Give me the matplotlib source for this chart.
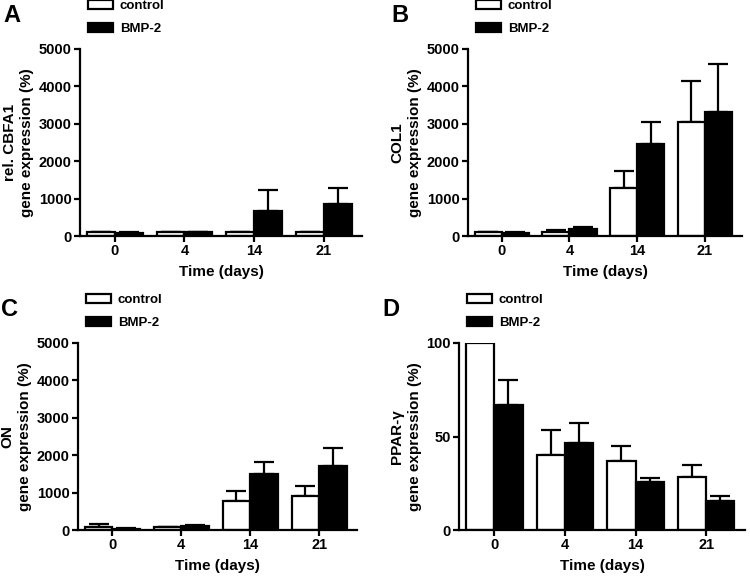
"""Gene expression time course, four panels (control vs BMP-2)."""

import matplotlib
matplotlib.use("Agg")
import matplotlib.pyplot as plt
import numpy as np

plt.rcParams["font.family"] = ["Liberation Sans", "DejaVu Sans"]
plt.rcParams["font.weight"] = "bold"
plt.rcParams["axes.labelweight"] = "bold"

days = ["0", "4", "14", "21"]
series_names = ["control", "BMP-2"]

# panel A - CBFA1
cbfa1_ctrl = [100, 100, 100, 100]
cbfa1_ctrl_err = [10, 10, 15, 15]
cbfa1_bmp = [90, 100, 680, 860]
cbfa1_bmp_err = [15, 15, 540, 420]

# panel B - COL1
col1_ctrl = [100, 100, 1280, 3040]
col1_ctrl_err = [10, 60, 460, 1110]
col1_bmp = [80, 180, 2450, 3310]
col1_bmp_err = [20, 70, 610, 1290]

# panel C - ON
on_ctrl = [90, 70, 780, 920]
on_ctrl_err = [70, 20, 270, 260]
on_bmp = [40, 100, 1500, 1710]
on_bmp_err = [15, 30, 330, 470]

# panel D - PPAR-gamma
ppar_ctrl = [100, 40, 37, 28.6]
ppar_ctrl_err = [0, 13.6, 8, 6.2]
ppar_bmp = [67, 46.4, 25.9, 15.7]
ppar_bmp_err = [13.4, 10.7, 1.8, 2.7]

panels = [
    ("A", "rel. CBFA1", cbfa1_ctrl, cbfa1_ctrl_err, cbfa1_bmp, cbfa1_bmp_err, 5000, 1000),
    ("B", "COL1", col1_ctrl, col1_ctrl_err, col1_bmp, col1_bmp_err, 5000, 1000),
    ("C", "ON", on_ctrl, on_ctrl_err, on_bmp, on_bmp_err, 5000, 1000),
    ("D", "PPAR-γ", ppar_ctrl, ppar_ctrl_err, ppar_bmp, ppar_bmp_err, 100, 50),
]

# axes boxes in pixels: left, right, top(y at ymax), bottom(y at 0)
W, H = 750, 577
boxes = [(80, 362, 49, 236), (468, 742, 49, 236), (78, 357, 343, 530), (459, 745, 343, 530)]

fig = plt.figure(figsize=(W / 100, H / 100), dpi=100)

width = 0.4
x = np.arange(len(days))
lw = 1.6

for (letter, gene, ctrl, ctrl_err, bmp, bmp_err, ymax, ystep), (l, r, t, b) in zip(panels, boxes):
    ax = fig.add_axes([l / W, 1 - b / H, (r - l) / W, (b - t) / H])
    bars_c = ax.bar(x - width / 2, ctrl, width, color="white", edgecolor="black",
                    linewidth=lw, label=series_names[0], zorder=2)
    bars_b = ax.bar(x + width / 2, bmp, width, color="black", edgecolor="black",
                    linewidth=lw, label=series_names[1], zorder=2)
    # upper error bars only
    for pos, vals, errs in [(x - width / 2, ctrl, ctrl_err), (x + width / 2, bmp, bmp_err)]:
        errs = np.asarray(errs, dtype=float)
        keep = errs > 0
        ax.errorbar(pos[keep], np.asarray(vals)[keep],
                    yerr=[np.zeros(keep.sum()), errs[keep]],
                    fmt="none", ecolor="black", elinewidth=lw, capsize=7,
                    capthick=lw, zorder=1)

    ax.set_xlim(-0.5, 3.55)
    ax.set_ylim(0, ymax)
    ax.set_yticks(np.arange(0, ymax + 1, ystep))
    ax.set_xticks(x)
    ax.set_xticklabels(days)
    for side in ("top", "right"):
        ax.spines[side].set_visible(False)
    for side in ("left", "bottom"):
        ax.spines[side].set_linewidth(lw)
    ax.tick_params(width=lw, length=4, labelsize=10.5, pad=2)
    ax.set_xlabel("Time (days)", fontsize=11, labelpad=5)
    ax.set_ylabel(gene + "\ngene expression (%)", fontsize=11, labelpad=3,
                  linespacing=1.35)

    fig.text((l - 77) / W, 1 - 15 / H - (t - 49) / H, letter, fontsize=17,
             fontweight="bold", va="center", ha="left")
    ax.legend(handles=[bars_c, bars_b], loc="upper left",
              bbox_to_anchor=((l + 8) / W, 1 - (t - 49) / H),
              bbox_transform=fig.transFigure, frameon=False, fontsize=9.5,
              handlelength=1.9, handleheight=0.6, handletextpad=0.5,
              labelspacing=0.85, borderaxespad=0, borderpad=0)

fig.savefig("out.png", dpi=100)
plt.close(fig)
